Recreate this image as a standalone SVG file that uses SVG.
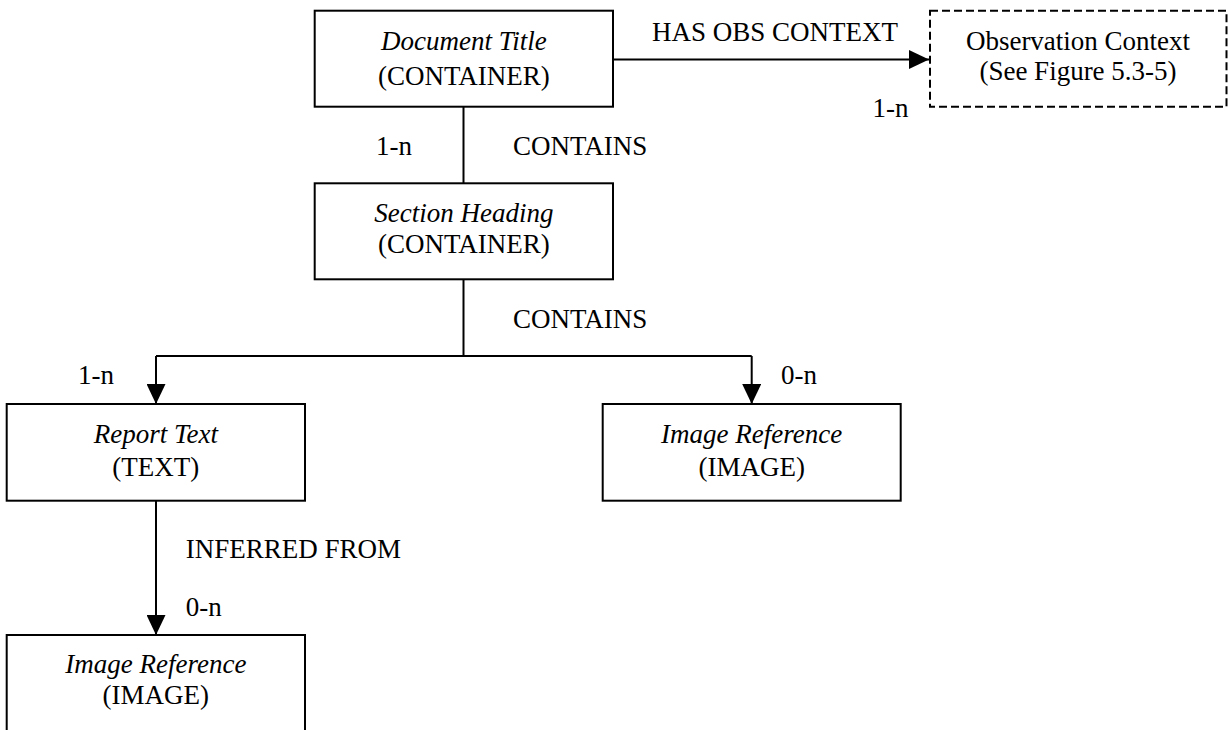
<svg xmlns="http://www.w3.org/2000/svg" width="1228" height="730" viewBox="0 0 1228 730">
  <style>
    .box { fill: #ffffff; stroke: #000000; stroke-width: 2; }
    .dashed { stroke-dasharray: 8 4; }
    .wire { fill: none; stroke: #000000; stroke-width: 2; }
    text { font-family: "Liberation Serif", "Times New Roman", serif; font-size: 27px; fill: #000000; }
    .name { font-style: italic; text-anchor: middle; }
    .kind { text-anchor: middle; }
  </style>
  <defs>
    <marker id="arrow" markerUnits="userSpaceOnUse" markerWidth="20" markerHeight="19" refX="20" refY="9.5" orient="auto">
      <path d="M0,0 L20,9.5 L0,19 Z" fill="#000000"/>
    </marker>
  </defs>
  <rect width="1228" height="730" fill="#ffffff"/>

  <!-- connectors -->
  <g id="connectors">
    <line class="wire" x1="613" y1="59.5" x2="929" y2="59.5" marker-end="url(#arrow)"/>
    <line class="wire" x1="463.5" y1="106.7" x2="463.5" y2="183.3"/>
    <polyline class="wire" points="463.5,279.3 463.5,356"/>
    <line class="wire" x1="156" y1="356" x2="751.7" y2="356"/>
    <line class="wire" x1="156" y1="356" x2="156" y2="404" marker-end="url(#arrow)"/>
    <line class="wire" x1="751.7" y1="356" x2="751.7" y2="404" marker-end="url(#arrow)"/>
    <line class="wire" x1="156" y1="500.7" x2="156" y2="635" marker-end="url(#arrow)"/>
    <text x="652" y="40.5">HAS OBS CONTEXT</text>
    <text x="872.5" y="116.7">1-n</text>
    <text x="376" y="155">1-n</text>
    <text x="513" y="155">CONTAINS</text>
    <text x="513" y="328.3">CONTAINS</text>
    <text x="78" y="384">1-n</text>
    <text x="781" y="384">0-n</text>
    <text x="185.7" y="558.3">INFERRED FROM</text>
    <text x="185.7" y="616">0-n</text>
  </g>

  <g id="document-title">
    <rect class="box" x="314.7" y="10.7" width="298.3" height="96"/>
    <text class="name" x="463.8" y="50">Document Title</text>
    <text class="kind" x="463.8" y="85">(CONTAINER)</text>
  </g>

  <g id="observation-context">
    <rect class="box dashed" x="930" y="10.7" width="296.5" height="96"/>
    <text class="kind" x="1078" y="49.5">Observation Context</text>
    <text class="kind" x="1078" y="80">(See Figure 5.3-5)</text>
  </g>

  <g id="section-heading">
    <rect class="box" x="314.7" y="183.3" width="298.3" height="96"/>
    <text class="name" x="463.8" y="222">Section Heading</text>
    <text class="kind" x="463.8" y="252.5">(CONTAINER)</text>
  </g>

  <g id="report-text">
    <rect class="box" x="6.7" y="404" width="298.3" height="96.7"/>
    <text class="name" x="155.8" y="443">Report Text</text>
    <text class="kind" x="155.8" y="475.5">(TEXT)</text>
  </g>

  <g id="image-reference-right">
    <rect class="box" x="602.7" y="404" width="298" height="96.7"/>
    <text class="name" x="751.7" y="443">Image Reference</text>
    <text class="kind" x="751.7" y="475.5">(IMAGE)</text>
  </g>

  <g id="image-reference-bottom">
    <rect class="box" x="6.7" y="635" width="298.3" height="110"/>
    <text class="name" x="155.8" y="672.5">Image Reference</text>
    <text class="kind" x="155.8" y="704">(IMAGE)</text>
  </g>
</svg>
